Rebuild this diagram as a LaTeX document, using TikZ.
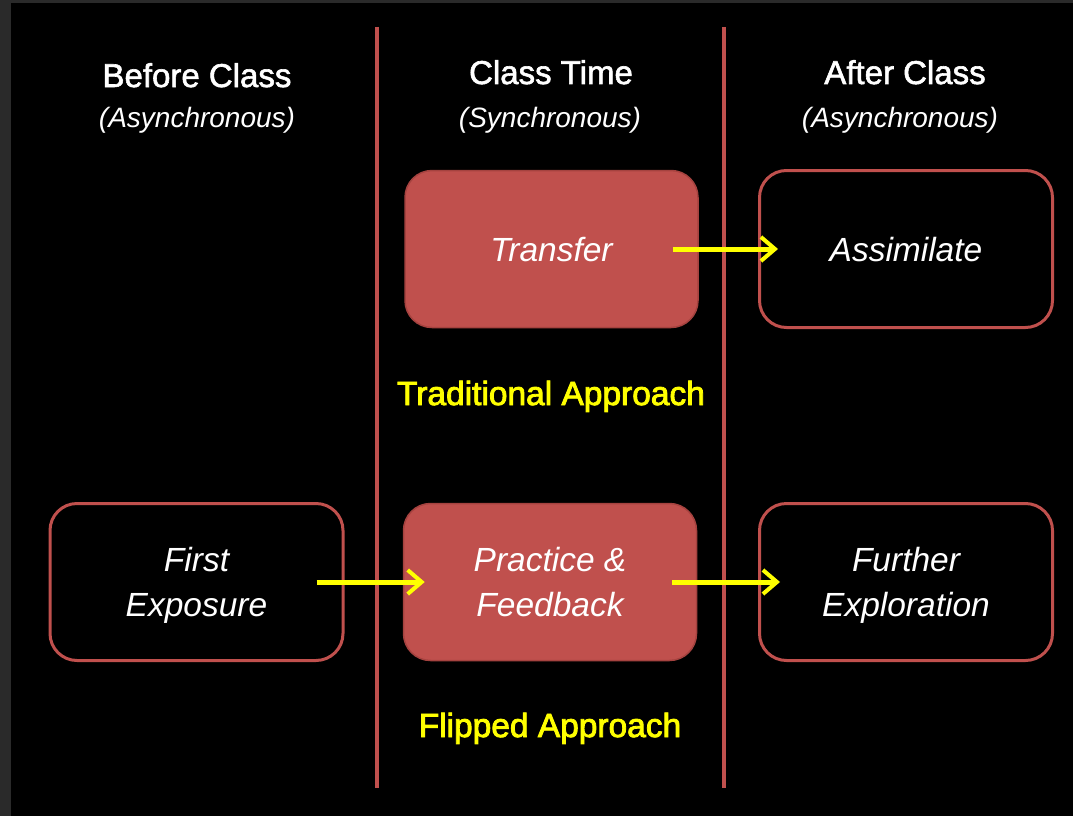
\documentclass[tikz,border=0pt]{standalone}
\usepackage{fontspec}
\setmainfont{Liberation Sans}
\newfontfamily\medfont[FakeBold=1.8]{Liberation Sans}
\newfontfamily\yelfont[FakeBold=2.5]{Liberation Sans}
\usetikzlibrary{arrows.meta}
\definecolor{accred}{RGB}{192,80,77}
\definecolor{accredd}{RGB}{165,66,63}
\definecolor{yel}{RGB}{255,255,0}
\definecolor{frame}{RGB}{42,42,42}
\begin{document}
\begin{tikzpicture}[x=1pt,y=-1pt,
  hdr/.style={text=white,inner sep=0pt,anchor=base,font=\medfont\fontsize{33}{40}\selectfont},
  sub/.style={text=white,inner sep=0pt,anchor=base,font=\itshape\fontsize{28}{34}\selectfont},
  yellab/.style={text=yel,inner sep=0pt,anchor=base,font=\yelfont\fontsize{33.5}{40}\selectfont},
  boxbase/.style={rounded corners=27pt,minimum width=293pt,minimum height=157pt,inner sep=0pt,
    text depth=0pt,align=center,text=white,font=\itshape\fontsize{33.5}{45}\selectfont},
  filledbox/.style={boxbase,fill=accred,draw=accredd,line width=1.5pt},
  openbox/.style={boxbase,draw=accred,line width=3pt},
  vline/.style={draw=accred,line width=4pt},
  arr/.style={draw=yel,line width=5pt,-{Straight Barb[length=14pt,width=24pt,line width=4pt]}}
]
\useasboundingbox (0,0) rectangle (1073,816);
\fill[frame] (0,0) rectangle (1073,816);
\fill[black] (11,3) rectangle (1073,816);

% column separators
\coordinate (l1top) at (377,27);
\coordinate (l1bot) at (377,788);
\coordinate (l2top) at (724,27);
\coordinate (l2bot) at (724,788);
\draw[vline] (l1top) -- (l1bot);
\draw[vline] (l2top) -- (l2bot);

% headers
\node[hdr] (h1) at (197,87) {Before Class};
\node[hdr] (h2) at (551,84) {Class Time};
\node[hdr] (h3) at (905,84) {After Class};
\node[sub] (s1) at (197,127) {(Asynchronous)};
\node[sub] (s2) at (550,127) {(Synchronous)};
\node[sub] (s3) at (900,127) {(Asynchronous)};

% boxes
\node[filledbox] (transfer) at (551.5,249) {Transfer};
\node[openbox] (assim) at (906,249) {Assimilate};
\node[openbox] (first) at (196.5,582) {First\\Exposure};
\node[filledbox] (practice) at (550,582) {Practice \&\\Feedback};
\node[openbox] (further) at (906,582) {Further\\Exploration};

% labels
\node[yellab] (trad) at (551,405) {Traditional Approach};
\node[yellab] (flip) at (550,737) {Flipped Approach};

% arrows
\draw[arr] ([xshift=-26pt]transfer.east) -- ([xshift=20pt]assim.west);
\draw[arr] ([xshift=-28pt]first.east) -- ([xshift=22pt]practice.west);
\draw[arr] ([xshift=-25pt]practice.east) -- ([xshift=22pt]further.west);
\end{tikzpicture}
\end{document}
